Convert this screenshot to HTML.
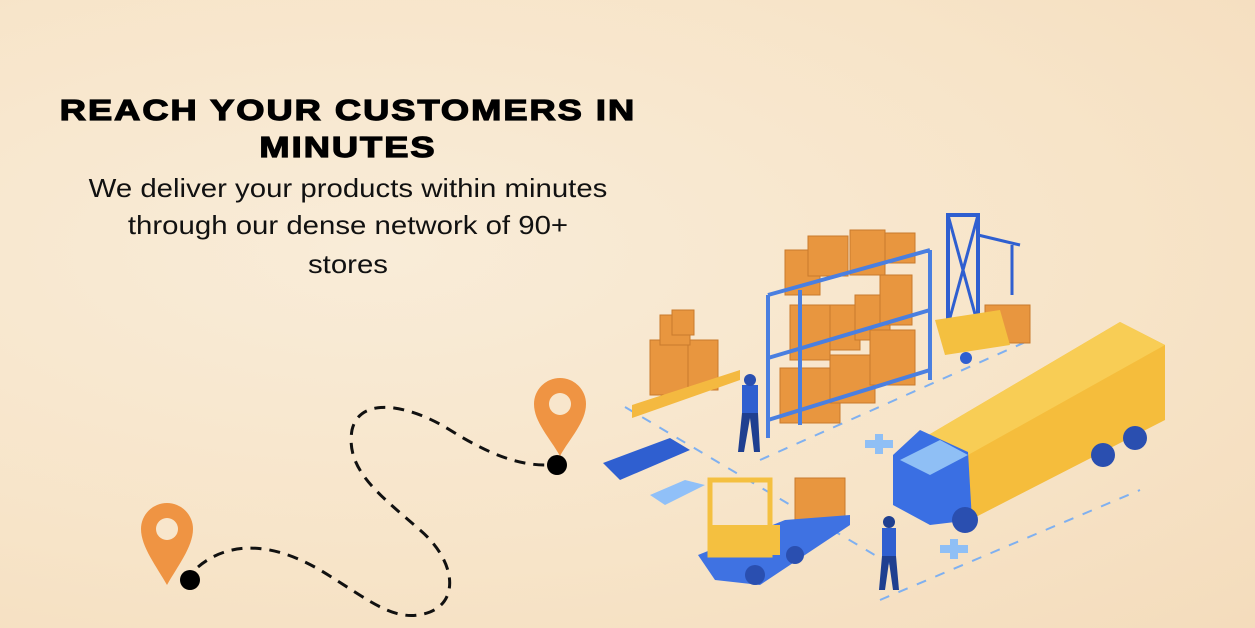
<!DOCTYPE html>
<html><head><meta charset="utf-8"><style>
html,body{margin:0;padding:0}
body{width:1255px;height:628px;overflow:hidden;position:relative;background:radial-gradient(ellipse at 30% 40%,#f9ecd8 0%,#f7e4c8 60%,#f4dcbc 100%);font-family:"Liberation Sans",sans-serif}
.t{position:absolute;left:0;width:696px;text-align:center;color:#000}
.h{font-weight:900;font-size:29px;letter-spacing:1.6px;transform:scaleX(1.25);transform-origin:348px 0;-webkit-text-stroke:1.2px #000}
.b{font-size:26px;color:#111;transform:scaleX(1.13);transform-origin:348px 0}
</style></head><body>
<div class="t h" style="top:95px">REACH YOUR CUSTOMERS IN</div>
<div class="t h" style="top:132px">MINUTES</div>
<div class="t b" style="top:173px">We deliver your products within minutes</div>
<div class="t b" style="top:210px">through our dense network of 90+</div>
<div class="t b" style="top:249px">stores</div>
<svg width="1255" height="628" style="position:absolute;left:0;top:0">
<path d="M198,567 C220,548 260,535 320,570 C370,600 395,625 430,612 C460,600 455,560 420,530 C380,495 345,470 352,430 C360,395 410,405 450,430 C490,455 520,466 550,465" fill="none" stroke="#111" stroke-width="3" stroke-dasharray="11,8"/>
<g fill="#ef9443">
<path d="M560,378 a26,26 0 0 1 26,26 c0,18 -16,34 -26,52 c-10,-18 -26,-34 -26,-52 a26,26 0 0 1 26,-26z"/>
<path d="M167,503 a26,26 0 0 1 26,26 c0,18 -16,38 -26,56 c-10,-18 -26,-38 -26,-56 a26,26 0 0 1 26,-26z"/>
</g>
<circle cx="560" cy="404" r="11" fill="#f8e6cc"/><circle cx="167" cy="529" r="11" fill="#f8e6cc"/>
<circle cx="557" cy="465" r="10" fill="#000"/><circle cx="190" cy="580" r="10" fill="#000"/>
<g stroke="#7fb0f0" stroke-width="2" stroke-dasharray="10,10" fill="none">
<path d="M625,407 L900,570"/><path d="M760,460 L1030,340"/><path d="M880,600 L1140,490"/>
</g>
<g fill="#e8963f" stroke="#c97a2c" stroke-width="1">
<rect x="785" y="250" width="35" height="45"/><rect x="808" y="236" width="40" height="40"/><rect x="850" y="230" width="35" height="45"/><rect x="885" y="233" width="30" height="30"/>
<rect x="790" y="305" width="40" height="55"/><rect x="830" y="305" width="30" height="45"/><rect x="855" y="295" width="35" height="45"/><rect x="880" y="275" width="32" height="50"/>
<rect x="780" y="368" width="60" height="55"/><rect x="830" y="355" width="45" height="48"/><rect x="870" y="330" width="45" height="55"/>
<rect x="650" y="340" width="45" height="55"/><rect x="688" y="340" width="30" height="50"/><rect x="660" y="315" width="30" height="30"/><rect x="672" y="310" width="22" height="25"/>
<rect x="795" y="478" width="50" height="42"/><rect x="985" y="305" width="45" height="38"/>
</g>
<path d="M632,405 L740,370 L740,380 L632,418z" fill="#f4b940"/>
<g stroke="#4a7fe0" stroke-width="4" fill="none">
<path d="M768,295 L768,438 M930,250 L930,380 M768,295 L930,250 M768,358 L930,310 M768,420 L930,370 M800,290 L800,425"/>
</g>
<rect x="948" y="215" width="30" height="110" fill="none" stroke="#2f5fd0" stroke-width="4"/>
<path d="M948,215 L978,325 M978,215 L948,325 M978,235 L1020,245 M1012,245 L1012,295" stroke="#2f5fd0" stroke-width="3"/>
<path d="M935,320 L1000,310 L1010,345 L945,355z" fill="#f4c040"/>
<circle cx="966" cy="358" r="6" fill="#2f5fd0"/>
<path d="M920,440 L1120,322 L1165,345 L1165,420 L970,520 L920,500z" fill="#f5bd3c"/>
<path d="M920,440 L1120,322 L1165,345 L968,455z" fill="#f8cd55"/>
<path d="M893,455 L920,430 L968,452 L972,520 L930,525 L893,505z" fill="#3a6fe3"/>
<path d="M900,460 L940,440 L968,455 L930,475z" fill="#8fbff5"/>
<g fill="#2a4fb0"><circle cx="965" cy="520" r="13"/><circle cx="1103" cy="455" r="12"/><circle cx="1135" cy="438" r="12"/></g>
<path d="M603,463 L670,438 L690,450 L620,480z" fill="#2f5fd0"/>
<path d="M650,495 L685,480 L705,485 L665,505z" fill="#90c0f8"/>
<path d="M698,555 L785,520 L850,515 L850,525 L760,585 L715,580z" fill="#3f72e2"/>
<rect x="710" y="480" width="60" height="75" fill="none" stroke="#f4c040" stroke-width="5"/>
<rect x="710" y="525" width="70" height="30" fill="#f4c040"/>
<circle cx="755" cy="575" r="10" fill="#2a4fb0"/><circle cx="795" cy="555" r="9" fill="#2a4fb0"/>
<g fill="#2f5fd0"><rect x="742" y="385" width="16" height="30"/><path d="M742,413 L738,452 L744,452 L750,418 L754,452 L760,452 L758,413z" fill="#1f3f90"/><circle cx="750" cy="380" r="6" fill="#2a4fb0"/>
<rect x="882" y="528" width="14" height="30"/><path d="M882,556 L879,590 L885,590 L889,562 L893,590 L899,590 L896,556z" fill="#1f3f90"/><circle cx="889" cy="522" r="6" fill="#1f3f90"/></g>
<g fill="#8fbff5"><path d="M865,440 h10 v-6 h8 v6 h10 v8 h-10 v6 h-8 v-6 h-10z"/><path d="M940,545 h10 v-6 h8 v6 h10 v8 h-10 v6 h-8 v-6 h-10z"/></g>
</svg>
</body></html>
